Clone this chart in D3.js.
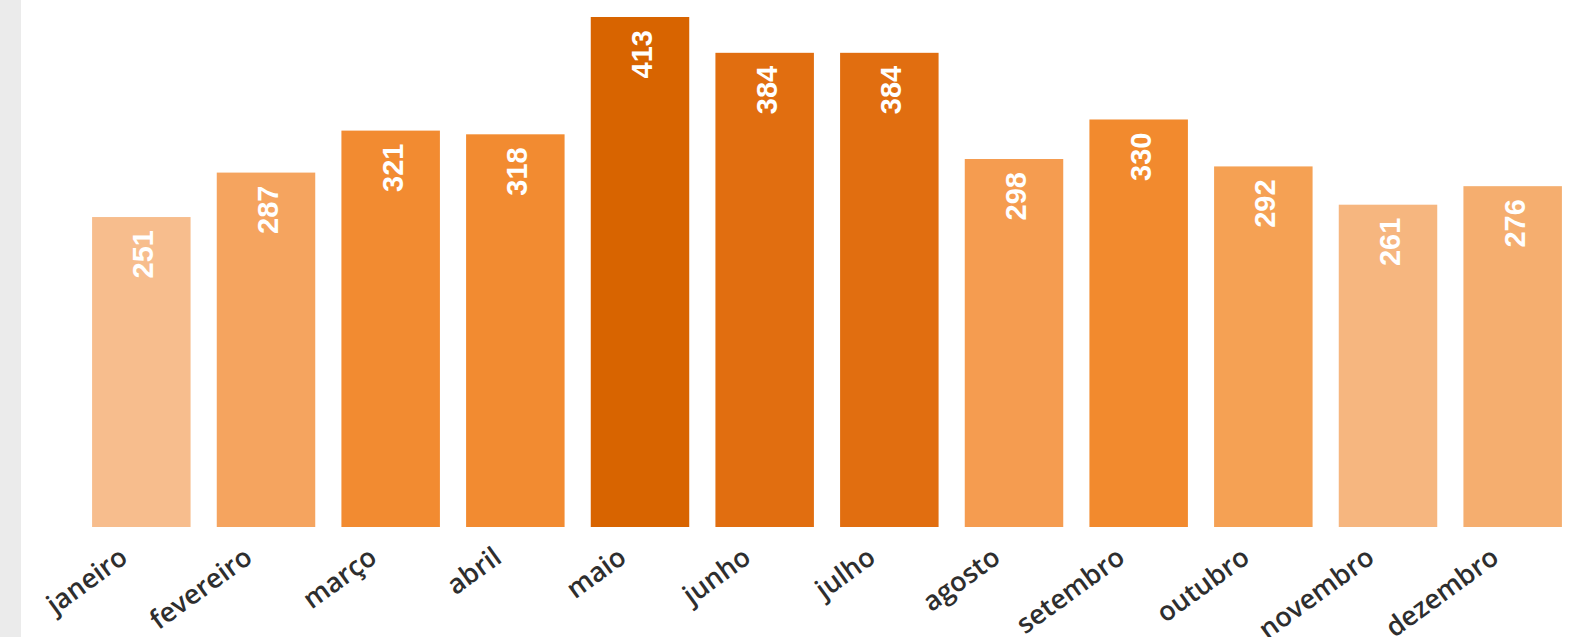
<!DOCTYPE html>
<html><head><meta charset="utf-8">
<script src="https://cdn.jsdelivr.net/npm/d3@7"></script>
<style>
html,body{margin:0;padding:0;background:#fff;overflow:hidden}
svg{display:block}
</style></head>
<body>
<svg id="c" width="1580" height="637"></svg>
<script>
const months = ["janeiro","fevereiro","março","abril","maio","junho","julho","agosto","setembro","outubro","novembro","dezembro"];
const values = [251,287,321,318,413,384,384,298,330,292,261,276];
const barColors = ["#f7bd8d","#f5a45f","#f28b31","#f28b31","#d86400","#e16e10","#e16e10","#f59c50","#f28a2e","#f5a154","#f6b67f","#f5ae6f"];

const svg = d3.select("#c");
svg.append("rect").attr("x",0).attr("y",0).attr("width",21).attr("height",637).attr("fill","#ebebeb");

const x = d3.scaleBand().domain(months).range([79,1575]).paddingInner(0.21).paddingOuter(0.105);
const y = d3.scaleLinear().domain([0,413]).range([527,17]);

const data = months.map((m,i)=>({m, v:values[i], c:barColors[i]}));

svg.selectAll("rect.bar").data(data).join("rect").attr("class","bar")
  .attr("x",d=>x(d.m)).attr("width",x.bandwidth())
  .attr("y",d=>y(d.v)).attr("height",d=>y(0)-y(d.v))
  .attr("fill",d=>d.c);

svg.selectAll("text.val").data(data).join("text").attr("class","val")
  .attr("transform",d=>`translate(${x(d.m)+x.bandwidth()/2+12},${y(d.v)+13}) rotate(-90)`)
  .attr("text-anchor","end")
  .attr("fill","#fff")
  .style("font-family","'Liberation Sans', Arial, sans-serif")
  .style("font-weight","bold")
  .style("font-size","29px")
  .text(d=>d.v);

const xAxis = svg.append("g").attr("transform","translate(0,527)")
  .call(d3.axisBottom(x).tickSize(0).tickPadding(0));
xAxis.select(".domain").remove();
xAxis.selectAll("text")
  .attr("text-anchor","end")
  .attr("dy",0)
  .attr("transform","translate(-12,34) rotate(-36)")
  .attr("fill","#2e2e2e")
  .style("font-family","'Open Sans', sans-serif")
  .style("font-weight","600")
  .style("font-size","27px");
</script>
</body></html>
